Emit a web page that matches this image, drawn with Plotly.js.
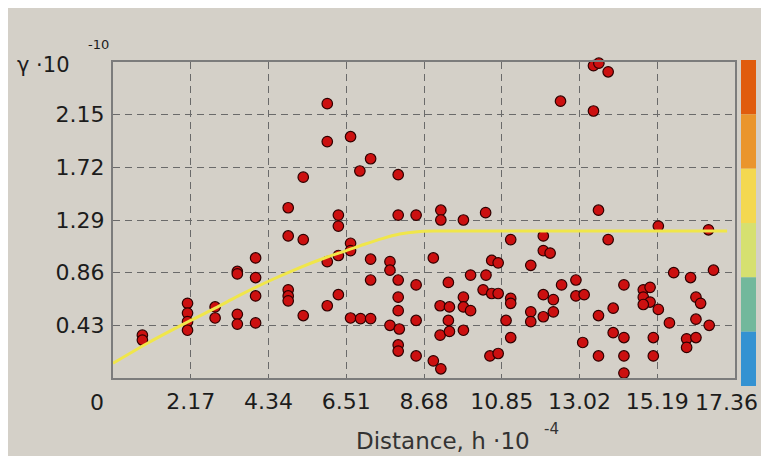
<!DOCTYPE html>
<html><head><meta charset="utf-8">
<script src="https://cdn.plot.ly/plotly-3.0.1.min.js"></script>
<style>html,body{margin:0;padding:0;background:#fff;} #chart{width:761px;height:456px;}</style>
</head><body><div id="chart"></div>
<script>
// Experimental points: lag distance (h·10^-4) and semivariance (γ·10^-10)
const distance = [
  0.82,0.82,
  2.08,2.08,2.08,2.08,
  2.85,2.85,
  3.47,3.47,3.47,3.47,
  3.98,3.98,3.98,3.98,
  4.89,4.89,4.89,4.89,4.89,
  5.31,5.31,5.31,
  5.98,5.98,5.98,5.98,
  6.29,6.29,6.29,6.29,
  6.63,6.63,6.63,6.63,
  6.89,6.91,
  7.19,7.19,7.19,7.19,
  7.73,7.73,7.73,
  7.96,7.96,7.96,7.96,7.96,7.99,7.96,7.96,
  8.46,8.46,8.46,8.46,
  8.94,8.94,
  9.15,9.15,9.13,9.39,9.36,9.13,9.39,9.15,9.36,
  9.78,9.78,9.78,9.98,9.78,9.98,
  10.40,10.41,10.57,10.75,10.33,10.57,10.75,10.52,10.75,10.97,
  11.10,11.10,11.10,11.10,
  11.66,11.66,11.66,
  12.01,12.01,12.20,12.01,12.29,12.01,12.29,
  12.17,12.49,12.52,
  12.92,12.92,13.15,13.11,
  13.41,13.56,13.82,13.41,13.55,13.55,13.55,13.82,
  13.96,13.96,
  14.26,14.26,14.26,14.26,
  14.80,14.99,14.80,14.99,14.80,
  15.22,15.53,15.08,15.08,15.22,
  15.65,16.12,16.76,16.62,
  16.27,16.40,16.27,16.64,16.01,16.01,16.27
];
const gamma = [
  0.35,0.31,
  0.61,0.53,0.46,0.39,
  0.58,0.49,
  0.87,0.85,0.52,0.44,
  0.98,0.82,0.67,0.45,
  1.39,1.16,0.72,0.67,0.63,
  1.64,1.13,0.51,
  2.24,1.93,0.95,0.59,
  1.33,1.24,1.00,0.68,
  1.97,1.10,1.04,0.49,
  1.69,0.485,
  1.79,0.97,0.80,0.485,
  0.95,0.88,0.43,
  1.66,1.33,0.80,0.66,0.55,0.40,0.27,0.22,
  1.33,0.76,0.47,0.18,
  0.98,0.14,
  1.37,1.29,0.59,0.58,0.47,0.35,0.38,0.075,0.78,
  1.29,0.66,0.58,0.55,0.39,0.84,
  1.35,0.84,0.96,0.94,0.72,0.69,0.69,0.18,0.20,0.47,
  1.13,0.65,0.61,0.33,
  0.92,0.54,0.46,
  1.16,1.04,1.02,0.68,0.64,0.50,0.54,
  2.63,2.26,0.76,
  0.80,0.67,0.68,0.29,
  2.55,2.57,2.50,2.18,1.37,0.51,0.18,1.13,
  0.57,0.37,
  0.76,0.33,0.18,0.04,
  0.72,0.74,0.66,0.62,0.60,
  0.56,0.45,0.33,0.18,1.24,
  0.86,0.82,0.88,1.21,
  0.66,0.61,0.48,0.43,0.32,0.25,0.33
];
// Fitted model curve
const modelDistance = [0, 1.0, 2.17, 2.85, 3.5, 4.34, 5.2, 6.0, 6.51, 7.0, 7.54, 8.0, 8.5, 9.0, 17.14];
const modelGamma    = [0.12, 0.29, 0.47, 0.57, 0.67, 0.79, 0.90, 0.99, 1.04, 1.09, 1.14, 1.175, 1.195, 1.20, 1.20];

const xTicks = [2.17, 4.34, 6.51, 8.68, 10.85, 13.02, 15.19, 17.36];
const xTickLabels = ['2.17','4.34','6.51','8.68','10.85','13.02','15.19','17.36'];
const yTicks = [0.43, 0.86, 1.29, 1.72, 2.15, 2.58];
const yTickLabels = ['0.43','0.86','1.29','1.72','2.15',''];
const colorbarColors = ['#e05c0e','#ea952c','#f4d850','#d6e070','#72b89c','#3492d2'];

// pixel helpers (plot area 113..735 x, 62..378 y)
const L = 113, R = 735, T = 62, B = 378;
const px = x => (x - L) / (R - L);
const py = y => (B - y) / (B - T);

const FONT = 'DejaVu Sans, Arial, sans-serif';
const TXT = '#1c1c1c';

const shapes = [
  {type:'rect', xref:'paper', yref:'paper', x0:px(8), x1:px(770), y0:py(470), y1:py(8),
   fillcolor:'#d4d0c8', line:{width:0}, layer:'below'}
];
const cbTop = 60, cbBot = 386, segH = (cbBot - cbTop) / colorbarColors.length;
colorbarColors.forEach((c, i) => {
  shapes.push({type:'rect', xref:'paper', yref:'paper', x0:px(741), x1:px(756),
    y0:py(cbTop + (i + 1) * segH), y1:py(cbTop + i * segH), fillcolor:c, line:{width:0}, layer:'above'});
});

// the last tick label sits at the right edge of the picture: draw it right-aligned so it stays whole
const lastIdx = xTickLabels.length - 1;
const shownTickText = xTickLabels.map((t, i) => i === lastIdx ? '' : t);

const annotations = [
  {text:'0', xref:'paper', yref:'paper', x:px(97), y:py(402), xanchor:'center', yanchor:'middle', showarrow:false, font:{family:FONT, size:22, color:TXT}},
  {text:xTickLabels[lastIdx], xref:'paper', yref:'paper', x:px(760), y:py(402), xanchor:'right', yanchor:'middle', showarrow:false, font:{family:FONT, size:22, color:TXT}},
  {text:'γ ·10', xref:'paper', yref:'paper', x:px(15), y:py(65), xanchor:'left', yanchor:'middle', showarrow:false, font:{family:FONT, size:21, color:TXT}},
  {text:'-10', xref:'paper', yref:'paper', x:px(86), y:py(45), xanchor:'left', yanchor:'middle', showarrow:false, font:{family:FONT, size:13, color:TXT}},
  {text:'Distance, h ·10', xref:'paper', yref:'paper', x:px(443), y:py(441), xanchor:'center', yanchor:'middle', showarrow:false, font:{family:FONT, size:23, color:'#333'}},
  {text:'-4', xref:'paper', yref:'paper', x:px(542), y:py(429), xanchor:'left', yanchor:'middle', showarrow:false, font:{family:FONT, size:15, color:'#333'}}
];

const traces = [
  {type:'scatter', mode:'markers', x:distance, y:gamma, cliponaxis:false,
   marker:{size:10.5, color:'#cc1010', line:{color:'#2e0000', width:1.2}}, hoverinfo:'x+y'},
  {type:'scatter', mode:'lines', x:modelDistance, y:modelGamma,
   line:{color:'#f0e64a', width:3, shape:'spline', smoothing:0.8}}
];

const layout = {
  width:761, height:456,
  margin:{l:L, r:761 - R, t:T, b:456 - B, pad:0},
  paper_bgcolor:'#ffffff', plot_bgcolor:'#d4d0c8',
  showlegend:false,
  xaxis:{range:[0, 17.36], tickvals:xTicks, ticktext:shownTickText, ticks:'', ticklabelstandoff:3,
    showgrid:true, gridcolor:'#6a6a6a', gridwidth:1, griddash:'7px,5px', zeroline:false,
    showline:true, linecolor:'#7c7c7c', linewidth:2, mirror:true,
    tickfont:{family:FONT, size:22, color:TXT}},
  yaxis:{range:[0, 2.58], tickvals:yTicks, ticktext:yTickLabels, ticks:'', ticklabelstandoff:2,
    showgrid:true, gridcolor:'#6a6a6a', gridwidth:1, griddash:'7px,5px', zeroline:false,
    showline:true, linecolor:'#7c7c7c', linewidth:2, mirror:true,
    tickfont:{family:FONT, size:22, color:TXT}},
  shapes:shapes, annotations:annotations
};

Plotly.newPlot('chart', traces, layout, {staticPlot:true, displayModeBar:false});
</script>
</body></html>
